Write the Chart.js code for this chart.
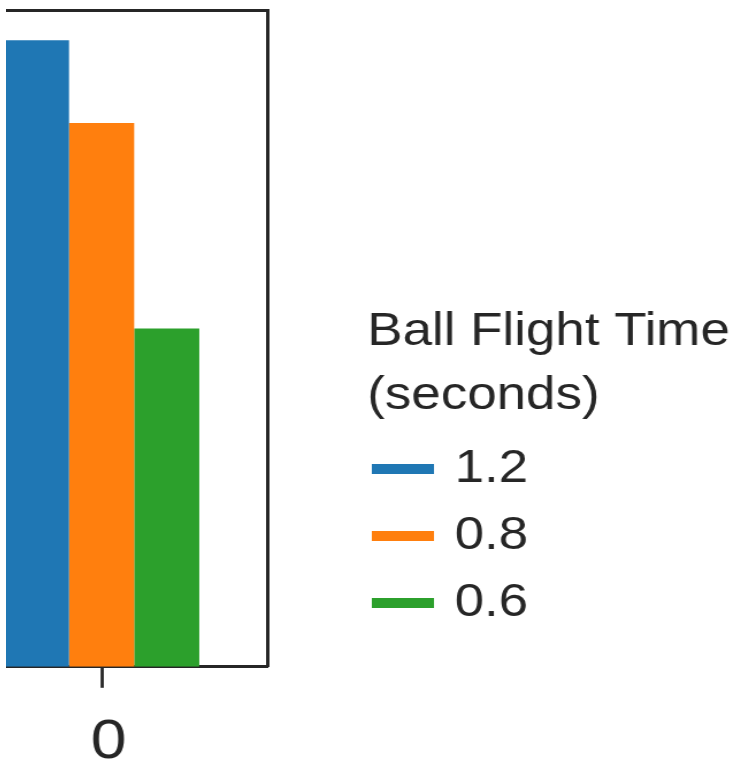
<!DOCTYPE html>
<html>
<head>
<meta charset="utf-8">
<script src="https://cdn.jsdelivr.net/npm/chart.js@4/dist/chart.umd.min.js"></script>
<style>
  html, body { margin: 0; padding: 0; background: #ffffff; }
  #wrap { position: absolute; left: 6px; top: 0; width: 730px; height: 769px; overflow: hidden; background: #ffffff; }
  #chart { position: absolute; left: -70px; top: 0; }
</style>
</head>
<body>
<div id="wrap"><canvas id="chart" width="700" height="800" style="width:805px;height:800px;"></canvas></div>
<script>
// ---- data ----
const categories = ['0'];
const seriesLabels = ['1.2', '0.8', '0.6'];
const values12 = [0.954];
const values08 = [0.828];
const values06 = [0.515];
const legendTitle = ['Ball Flight Time', '(seconds)'];

const ink = '#262626';
const colors = ['#1f77b4', '#ff7f0e', '#2ca02c'];
Chart.defaults.font.family = '"Liberation Sans", Arial, sans-serif';
Chart.defaults.color = ink;

const seriesValues = [values12, values08, values06];
const datasets = seriesLabels.map((lab, i) => ({
  label: lab,
  data: seriesValues[i],
  backgroundColor: colors[i],
  borderWidth: 0,
  barPercentage: 1.0,
  categoryPercentage: 0.59
}));

// let the legend draw its (wide) title beyond the width used for layout
const widenLegend = {
  id: 'widenLegend',
  afterLayout(chart) {
    const lg = chart.legend;
    if (lg) { lg.width = 330; lg.right = lg.left + 330; }
  }
};

new Chart(document.getElementById('chart'), {
  type: 'bar',
  data: { labels: categories, datasets: datasets },
  plugins: [widenLegend],
  options: {
    responsive: false,
    devicePixelRatio: 1,
    animation: false,
    layout: { padding: { left: 0, right: 205, top: 10, bottom: 3 } },
    scales: {
      x: {
        type: 'category',
        position: 'bottom',
        offset: true,
        z: 1,
        grid: { display: true, drawOnChartArea: false, drawTicks: true, tickLength: 21,
                tickWidth: 2.8, tickColor: ink, offset: false },
        border: { display: true, color: ink, width: 3 },
        ticks: { color: ink, padding: 21, labelOffset: 6, maxRotation: 0,
                 font: { size: 56, lineHeight: 1.2 } }
      },
      x2: {
        type: 'category',
        position: 'top',
        display: true,
        z: 1,
        grid: { display: false, drawTicks: false, tickLength: 0 },
        ticks: { display: false },
        border: { display: true, color: ink, width: 3 }
      },
      y: { display: false, min: 0, max: 1 },
      y2: {
        type: 'linear',
        position: 'right',
        display: true,
        min: 0, max: 1,
        z: 1,
        grid: { display: false, drawTicks: false, tickLength: 0 },
        ticks: { display: false },
        border: { display: true, color: ink, width: 3 },
        afterFit: (scale) => { scale.width = 87; }
      }
    },
    plugins: {
      tooltip: { enabled: false },
      legend: {
        display: true,
        position: 'right',
        align: 'start',
        fullSize: false,
        maxWidth: 120,
        title: {
          display: true,
          text: legendTitle,
          position: 'start',
          color: ink,
          font: { size: 46, lineHeight: 64 / 46 },
          padding: { top: 299, bottom: 64 }
        },
        labels: {
          usePointStyle: true,
          pointStyleWidth: 44,
          padding: 9,
          color: ink,
          font: { size: 46, lineHeight: 58 / 46 },
          generateLabels: (chart) => chart.data.datasets.map((ds, i) => ({
            text: [ds.label],
            fillStyle: ds.backgroundColor,
            strokeStyle: ds.backgroundColor,
            fontColor: ink,
            lineWidth: 10,
            lineCap: 'square',
            pointStyle: 'line',
            hidden: false,
            datasetIndex: i
          }))
        }
      }
    }
  }
});
</script>
</body>
</html>
